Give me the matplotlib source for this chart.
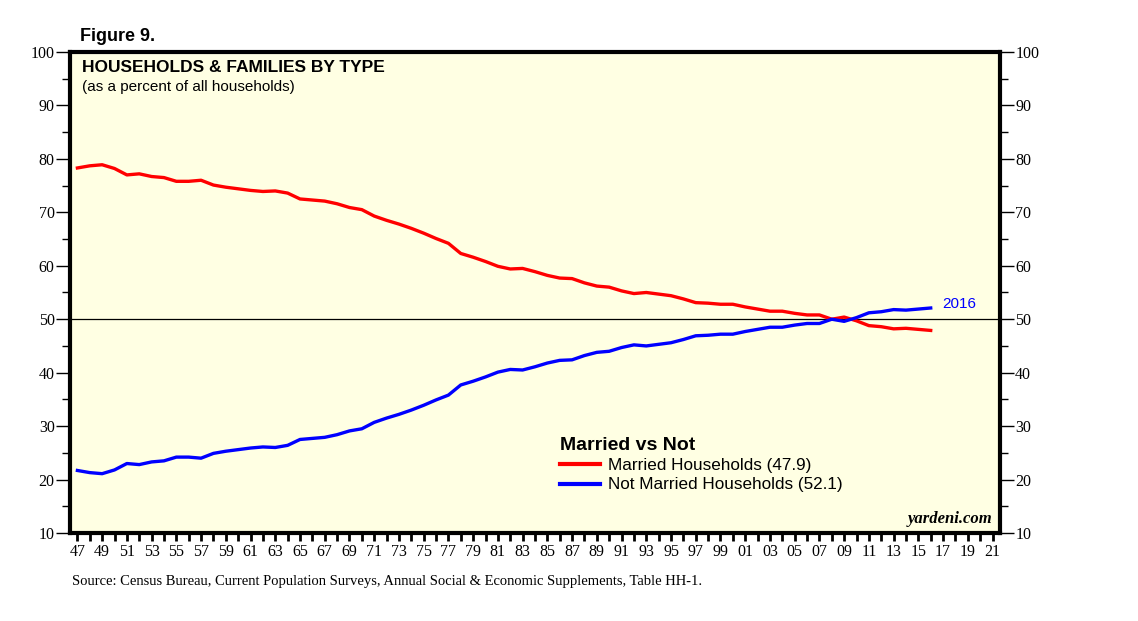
import matplotlib
matplotlib.use("Agg")
import matplotlib.pyplot as plt
from matplotlib.ticker import MultipleLocator, FixedLocator

# percent of all households, 1947-2016
years = list(range(1947, 2017))
married = [78.3, 78.7, 78.9, 78.2, 77.0, 77.2, 76.7, 76.5, 75.8, 75.8,
           76.0, 75.1, 74.7, 74.4, 74.1, 73.9, 74.0, 73.6, 72.5, 72.3,
           72.1, 71.6, 70.9, 70.5, 69.3, 68.5, 67.8, 67.0, 66.1, 65.1,
           64.2, 62.3, 61.6, 60.8, 59.9, 59.4, 59.5, 58.9, 58.2, 57.7,
           57.6, 56.8, 56.2, 56.0, 55.3, 54.8, 55.0, 54.7, 54.4, 53.8,
           53.1, 53.0, 52.8, 52.8, 52.3, 51.9, 51.5, 51.5, 51.1, 50.8,
           50.8, 50.0, 50.4, 49.7, 48.8, 48.6, 48.2, 48.3, 48.1, 47.9]
not_married = [21.7, 21.3, 21.1, 21.8, 23.0, 22.8, 23.3, 23.5, 24.2, 24.2,
               24.0, 24.9, 25.3, 25.6, 25.9, 26.1, 26.0, 26.4, 27.5, 27.7,
               27.9, 28.4, 29.1, 29.5, 30.7, 31.5, 32.2, 33.0, 33.9, 34.9,
               35.8, 37.7, 38.4, 39.2, 40.1, 40.6, 40.5, 41.1, 41.8, 42.3,
               42.4, 43.2, 43.8, 44.0, 44.7, 45.2, 45.0, 45.3, 45.6, 46.2,
               46.9, 47.0, 47.2, 47.2, 47.7, 48.1, 48.5, 48.5, 48.9, 49.2,
               49.2, 50.0, 49.6, 50.3, 51.2, 51.4, 51.8, 51.7, 51.9, 52.1]
tick_years = list(range(1947, 2022, 2))
tick_labels = ["%02d" % (y % 100) for y in tick_years]

bg = "#ffffe3"
serif = "Liberation Serif"
sans = "Liberation Sans"

fig = plt.figure(figsize=(11.38, 6.21), dpi=100)
ax = fig.add_axes([0.0615, 0.1417, 0.8172, 0.7746])
ax.set_facecolor(bg)

ax.axhline(50, color="black", lw=0.9, zorder=1)
ax.plot(years, married, color="#ff0000", lw=2.4, label="Married Households (47.9)", zorder=3)
ax.plot(years, not_married, color="#0000ff", lw=2.4, label="Not Married Households (52.1)", zorder=3)
ax.text(years[-1] + 0.9, not_married[-1] + 0.7, "2016", color="#0000ff",
        fontsize=11, family=sans, va="center", ha="left")

ax.set_xlim(1946.4, 2021.6)
ax.set_ylim(10, 100)

for s in ax.spines.values():
    s.set_linewidth(3)

ax.yaxis.set_major_locator(MultipleLocator(10))
ax.yaxis.set_minor_locator(MultipleLocator(5))
ax.tick_params(axis="y", which="major", direction="out", length=10, width=1,
               left=True, right=True, labelleft=True, labelright=True,
               labelsize=11.5, pad=1)
ax.tick_params(axis="y", which="minor", direction="out", length=6, width=1,
               left=True, right=True)
ax.xaxis.set_major_locator(FixedLocator(tick_years))
ax.set_xticklabels(tick_labels)
ax.xaxis.set_minor_locator(MultipleLocator(1))
ax.tick_params(axis="x", which="both", direction="out", length=6, width=2,
               labelsize=11.5, pad=2)
for lab in ax.get_xticklabels() + ax.get_yticklabels():
    lab.set_family(serif)

fig.text(0.0705, 0.934, "Figure 9.", fontsize=13, fontweight="bold", family=sans)
ax.text(0.013, 0.983, "HOUSEHOLDS & FAMILIES BY TYPE", transform=ax.transAxes,
        fontsize=12.5, fontweight="bold", family=sans, va="top")
ax.text(0.013, 0.942, "(as a percent of all households)", transform=ax.transAxes,
        fontsize=11, family=sans, va="top")
ax.text(0.992, 0.012, "yardeni.com", transform=ax.transAxes, fontsize=12,
        fontstyle="italic", fontweight="bold", family=serif, ha="right", va="bottom")

leg = ax.legend(loc="lower left", bbox_to_anchor=(0.52, 0.07), frameon=False,
                title="Married vs Not", prop={"family": sans, "size": 12.3},
                handlelength=2.3, handletextpad=0.5, labelspacing=0.25,
                borderaxespad=0)
leg.get_title().set_fontweight("bold")
leg.get_title().set_fontsize(14)
leg.get_title().set_family(sans)
leg._legend_box.align = "left"
for line in leg.get_lines():
    line.set_linewidth(3)

fig.text(0.063, 0.058,
         "Source: Census Bureau, Current Population Surveys, Annual Social & Economic Supplements, Table HH-1.",
         fontsize=10.5, family=serif)

fig.savefig("out.png", dpi=100)
